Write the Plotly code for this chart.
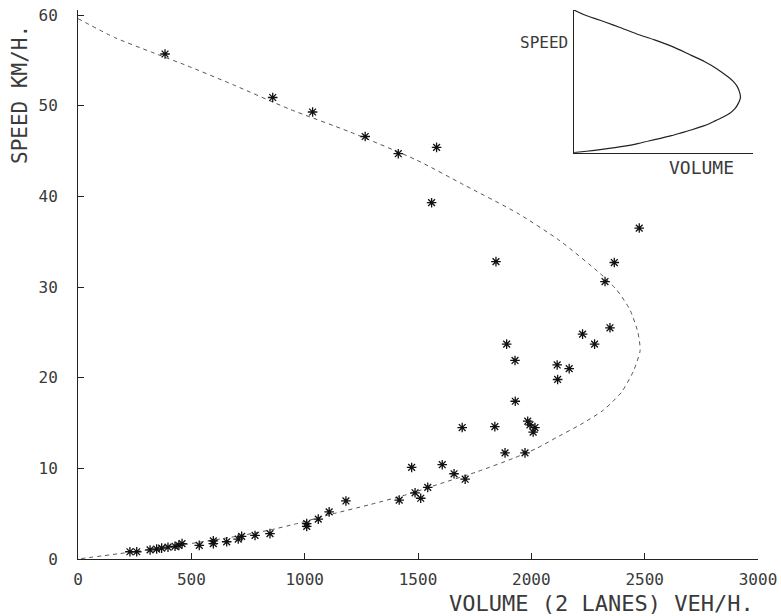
import plotly.graph_objects as go

# Observed data points (volume veh/h, speed km/h)
obs_volume = [384, 859, 1035, 1267, 1413, 1582, 1560, 2476, 1844, 2366, 2325, 2347, 2226, 2279,
              1891, 1928, 2114, 2167, 2116, 1929, 1695, 1839, 1984, 1994, 2016, 2008, 1884, 1972,
              1472, 1607, 1182, 1659, 1708, 1543, 1487, 1512, 1417, 1108, 1060, 1009, 1009, 847,
              781, 722, 707, 656, 597, 597, 535, 459, 445, 428, 397, 369, 347, 318, 259, 229]
obs_speed = [55.7, 50.9, 49.3, 46.6, 44.7, 45.4, 39.3, 36.5, 32.8, 32.7, 30.6, 25.5, 24.8, 23.7,
             23.7, 21.9, 21.4, 21.0, 19.8, 17.4, 14.5, 14.6, 15.2, 14.8, 14.5, 14.0, 11.7, 11.7,
             10.1, 10.4, 6.4, 9.4, 8.8, 7.9, 7.3, 6.7, 6.5, 5.2, 4.4, 3.9, 3.6, 2.8,
             2.6, 2.5, 2.2, 1.9, 2.0, 1.7, 1.5, 1.7, 1.5, 1.4, 1.3, 1.2, 1.1, 1.0, 0.8, 0.8]

# Fitted speed-volume curve
curve_volume = [0, 163, 325, 472, 685, 935, 1200, 1494, 1700, 1942, 2126, 2303, 2376, 2435,
                2470, 2480, 2450, 2398, 2317, 2229, 2111, 2023, 1920, 1758, 1597, 1450, 1288,
                1112, 965, 847, 700, 523, 362, 185, 0]
curve_speed = [59.6, 57.5, 55.9, 54.5, 52.3, 49.6, 47.1, 44.0, 41.3, 38.1, 35.1, 31.5, 29.7, 27.5,
               25.0, 23.0, 20.7, 18.4, 16.4, 15.0, 13.4, 12.2, 11.1, 9.6, 8.3, 7.1, 6.0,
               4.9, 3.9, 3.2, 2.5, 1.8, 1.2, 0.6, 0]

x_ticks = [0, 500, 1000, 1500, 2000, 2500, 3000]
y_ticks = [0, 10, 20, 30, 40, 50, 60]

FONT = "DejaVu Sans Mono"
INK = "#3a3a3a"

fig = go.Figure()

fig.add_trace(go.Scatter(
    x=curve_volume, y=curve_speed, mode="lines",
    line=dict(color="#555", width=1, dash="4px,4px", shape="spline", smoothing=0.6),
    hoverinfo="skip", showlegend=False))

fig.add_trace(go.Scatter(
    x=obs_volume, y=obs_speed, mode="markers",
    marker=dict(symbol="asterisk-open", size=8, color="#111",
                line=dict(color="#111", width=1.3)),
    showlegend=False))

# Inset schematic
fig.add_trace(go.Scatter(
    x=curve_volume, y=curve_speed, mode="lines", xaxis="x2", yaxis="y2",
    line=dict(color="#222", width=1.2, shape="spline", smoothing=0.6),
    hoverinfo="skip", showlegend=False))

W, H = 781, 616
ml, mr, mt, mb = 78, 23, 10, 57
pw, ph = W - ml - mr, H - mt - mb


def px_x(p):
    return (p - ml) / pw


def px_y(p):
    return (H - mb - p) / ph


fig.update_layout(
    width=W, height=H,
    margin=dict(l=ml, r=mr, t=mt, b=mb, autoexpand=False),
    paper_bgcolor="white", plot_bgcolor="white",
    font=dict(family=FONT, color=INK, size=16),
    xaxis=dict(range=[0, 3000], tickvals=x_ticks, ticktext=[str(v) for v in x_ticks],
               ticks="inside", ticklen=6, tickcolor="#222", showline=True, linecolor="#222",
               linewidth=1, showgrid=False, zeroline=False, ticklabelstandoff=6,
               automargin=False, tickfont=dict(size=16, family=FONT, color=INK)),
    yaxis=dict(range=[0, 60 * ph / 544], tickvals=y_ticks, ticktext=[str(v) for v in y_ticks],
               ticks="inside", ticklen=6, tickcolor="#222", showline=True, linecolor="#222",
               linewidth=1, showgrid=False, zeroline=False, ticklabelstandoff=16,
               automargin=False, tickfont=dict(size=16, family=FONT, color=INK)),
    xaxis2=dict(domain=[px_x(574), px_x(753)], range=[0, 2667], anchor="y2",
                showline=True, linecolor="#222", linewidth=1, showticklabels=False,
                ticks="", showgrid=False, zeroline=False),
    yaxis2=dict(domain=[px_y(152.7), 1.0], range=[0, 59.6], anchor="x2",
                showline=True, linecolor="#222", linewidth=1, showticklabels=False,
                ticks="", showgrid=False, zeroline=False),
    annotations=[
        dict(text="VOLUME (2 LANES) VEH/H.", xref="paper", yref="paper",
             x=px_x(756), y=px_y(603), xanchor="right", yanchor="middle",
             showarrow=False, font=dict(size=22, family=FONT, color=INK)),
        dict(text="SPEED KM/H.", xref="paper", yref="paper", textangle=-90,
             x=px_x(20), y=px_y(95), xanchor="center", yanchor="middle",
             showarrow=False, font=dict(size=21, family=FONT, color=INK)),
        dict(text="SPEED", xref="paper", yref="paper",
             x=px_x(570), y=px_y(43), xanchor="right", yanchor="middle",
             showarrow=False, font=dict(size=16, family=FONT, color=INK)),
        dict(text="VOLUME", xref="paper", yref="paper",
             x=px_x(701), y=px_y(167), xanchor="center", yanchor="middle",
             showarrow=False, font=dict(size=18, family=FONT, color=INK)),
    ],
)

fig.write_html("out.html", config={"displayModeBar": False},
               post_script="document.body.style.margin='0';")
